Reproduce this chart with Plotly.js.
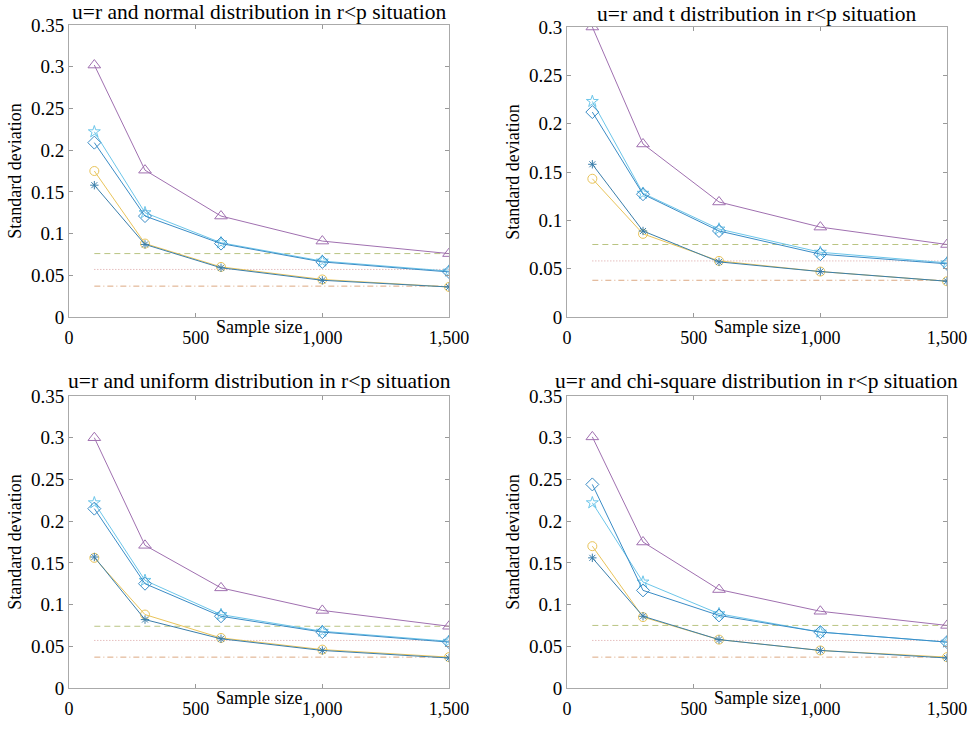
<!DOCTYPE html>
<html>
<head>
<meta charset="utf-8">
<script src="https://cdn.plot.ly/plotly-3.0.1.min.js"></script>
<style>html,body{margin:0;padding:0;background:#fff;}#chart{width:971px;height:734px;}</style>
</head>
<body>
<div id="chart"></div>
<script>
const sampleSizes = [100, 300, 600, 1000, 1500];
const refRange = [100, 1500];

const titles = [
  "u=r and normal distribution in r<p situation",
  "u=r and t distribution in r<p situation",
  "u=r and uniform distribution in r<p situation",
  "u=r and chi-square distribution in r<p situation"
];
const xTitle = "Sample size";
const yTitle = "Standard deviation";
const xTickVals = [0, 500, 1000, 1500];

// series per panel: triangle, star, diamond, circle, asterisk
const triangle = [
  [0.302, 0.176, 0.121, 0.091, 0.076],
  [0.300, 0.179, 0.119, 0.093, 0.075],
  [0.300, 0.171, 0.120, 0.093, 0.074],
  [0.301, 0.175, 0.118, 0.092, 0.075]
];
const star = [
  [0.222, 0.125, 0.089, 0.067, 0.055],
  [0.223, 0.128, 0.091, 0.067, 0.056],
  [0.222, 0.129, 0.088, 0.068, 0.056],
  [0.222, 0.127, 0.089, 0.067, 0.055]
];
const diamond = [
  [0.209, 0.121, 0.088, 0.066, 0.054],
  [0.212, 0.127, 0.089, 0.065, 0.055],
  [0.215, 0.125, 0.086, 0.067, 0.055],
  [0.244, 0.117, 0.087, 0.067, 0.055]
];
const circle = [
  [0.175, 0.088, 0.060, 0.045, 0.036],
  [0.143, 0.086, 0.058, 0.047, 0.037],
  [0.156, 0.088, 0.060, 0.046, 0.037],
  [0.170, 0.085, 0.058, 0.045, 0.037]
];
const asterisk = [
  [0.158, 0.087, 0.059, 0.044, 0.036],
  [0.158, 0.089, 0.057, 0.047, 0.037],
  [0.157, 0.082, 0.059, 0.045, 0.036],
  [0.156, 0.086, 0.058, 0.045, 0.036]
];
const refDashed = [0.076, 0.075, 0.074, 0.075];
const refDotted = [0.057, 0.058, 0.057, 0.057];
const refDashDot = [0.037, 0.038, 0.037, 0.037];

const yMax = [0.35, 0.30, 0.35, 0.35];

const FONT = "Liberation Serif";

const series = [
  {data: triangle, symbol: "triangle-up-open", color: "#a070b0", size: 11},
  {data: star, symbol: "star-open", color: "#6cc6ea", size: 9},
  {data: diamond, symbol: "diamond-open", color: "#3a8cc6", size: 10},
  {data: circle, symbol: "circle-open", color: "#e9c45a", size: 9},
  {data: asterisk, symbol: "asterisk-open", color: "#3a7eaa", size: 7}
];
const refs = [
  {data: refDashed, dash: "6px,4px", color: "#b9c482"},
  {data: refDotted, dash: "1px,2px", color: "#d9a0a0"},
  {data: refDashDot, dash: "6px,3px,1px,3px", color: "#dca882"}
];

const W = 971, H = 734;
const xDom = [[69 / W, 449 / W], [567 / W, 947 / W]];
const yDom = [
  [1 - 317 / H, 1 - 25 / H],
  [1 - 317 / H, 1 - 27 / H],
  [1 - 688 / H, 1 - 396 / H],
  [1 - 688 / H, 1 - 396 / H]
];

const traces = [];
const layout = {
  width: W, height: H,
  margin: {l: 0, r: 0, t: 0, b: 0},
  paper_bgcolor: "#fff", plot_bgcolor: "#fff",
  showlegend: false,
  font: {family: FONT, color: "#000"},
  annotations: []
};

for (let p = 0; p < 4; p++) {
  const xa = p === 0 ? "x" : "x" + (p + 1);
  const ya = p === 0 ? "y" : "y" + (p + 1);
  refs.forEach(r => {
    traces.push({
      x: refRange, y: [r.data[p], r.data[p]], xaxis: xa, yaxis: ya,
      mode: "lines", line: {color: r.color, width: 1, dash: r.dash}, hoverinfo: "skip"
    });
  });
  series.forEach(s => {
    traces.push({
      x: sampleSizes, y: s.data[p], xaxis: xa, yaxis: ya,
      mode: "lines+markers",
      line: {color: s.color, width: 1},
      marker: {symbol: s.symbol, size: s.size, color: s.color, line: {color: s.color, width: 1}}
    });
  });
  const col = p % 2;
  const xKey = p === 0 ? "xaxis" : "xaxis" + (p + 1);
  const yKey = p === 0 ? "yaxis" : "yaxis" + (p + 1);
  layout[xKey] = {
    domain: xDom[col], anchor: ya, range: [0, 1500],
    tickvals: xTickVals, tickformat: ",d",
    ticks: "inside", ticklen: 4, tickcolor: "#999",
    showline: true, linecolor: "#aaa", linewidth: 1, mirror: "ticks",
    showgrid: false, zeroline: false,
    ticklabelstandoff: 4,
    tickfont: {size: 18, family: FONT, color: "#000"}
  };
  const yticks = [];
  for (let v = 0; v <= yMax[p] + 1e-9; v += 0.05) yticks.push(Math.round(v * 100) / 100);
  layout[yKey] = {
    domain: yDom[p], anchor: xa, range: [0, yMax[p]],
    tickvals: yticks,
    ticks: "inside", ticklen: 4, tickcolor: "#999",
    showline: true, linecolor: "#aaa", linewidth: 1, mirror: "ticks",
    showgrid: false, zeroline: false,
    tickfont: {size: 19, family: FONT, color: "#000"},
    title: {text: yTitle, font: {size: 18, family: FONT, color: "#000"}, standoff: 4}
  };
  const xc = (xDom[col][0] + xDom[col][1]) / 2;
  layout.annotations.push({
    text: titles[p], xref: "paper", yref: "paper",
    x: xc, y: yDom[p][1],
    xanchor: "center", yanchor: "bottom", yshift: p >= 2 ? 1 : -1, showarrow: false,
    font: {size: 21.5, family: FONT, color: "#000"}
  });
  layout.annotations.push({
    text: xTitle, xref: "paper", yref: "paper",
    x: xc, y: yDom[p][0],
    xanchor: "center", yanchor: "top", yshift: 2, showarrow: false,
    font: {size: 18, family: FONT, color: "#000"}
  });
}

Plotly.newPlot("chart", traces, layout, {staticPlot: true, displayModeBar: false});
</script>
</body>
</html>
